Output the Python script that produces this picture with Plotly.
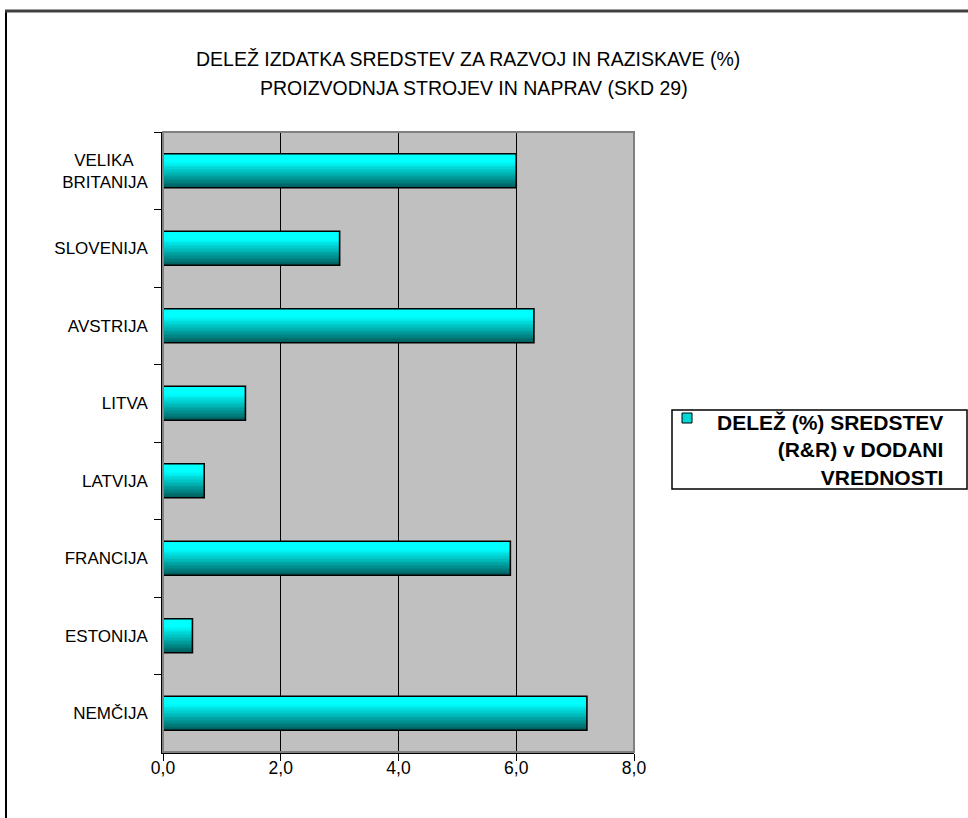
import plotly.graph_objects as go

# data (top to bottom as shown in the chart)
countries = ["VELIKA&nbsp;&nbsp;&nbsp;<br>BRITANIJA", "SLOVENIJA", "AVSTRIJA", "LITVA",
             "LATVIJA", "FRANCIJA", "ESTONIJA", "NEMČIJA"]
share_rd = [6.0, 3.0, 6.3, 1.4, 0.7, 5.9, 0.5, 7.2]
x_ticks = [0, 2, 4, 6, 8]

title_lines = ["DELEŽ IZDATKA SREDSTEV ZA RAZVOJ IN RAZISKAVE (%)",
               "PROIZVODNJA STROJEV IN NAPRAV (SKD 29)"]
legend_text = "DELEŽ (%) SREDSTEV<br>(R&R) v DODANI<br>VREDNOSTI"

FONT = "Liberation Sans, Arial, sans-serif"
W, H = 968, 818
PL, PR, PT, PB = 163, 634, 132, 752   # plot area in pixels


def px(x):
    return (x - PL) / (PR - PL)


def py(y):
    return (PB - y) / (PB - PT)


fig = go.Figure()

# gradient bars: thin horizontal stripes from cyan (top) to dark teal (bottom)
BAR_W = 0.44
N = 24
sw = BAR_W / N
for i in range(N):
    t = (i + 0.5) / N
    k = 0.0 if t < 0.25 else (t - 0.25) / 0.75
    g = int(round(255 - (255 - 92) * k))
    fig.add_trace(go.Bar(
        x=share_rd, y=countries, orientation="h",
        width=sw * 1.15, offset=-BAR_W / 2 + i * sw,
        marker=dict(color=f"rgb(0,{g},{g})", line=dict(width=0)),
        showlegend=False, hoverinfo="skip",
    ))

# outline
fig.add_trace(go.Bar(
    x=share_rd, y=countries, orientation="h",
    width=BAR_W, offset=-BAR_W / 2,
    marker=dict(color="rgba(0,0,0,0)", line=dict(color="black", width=1.6)),
    name="DELEŽ (%) SREDSTEV (R&R) v DODANI VREDNOSTI",
    showlegend=False,
    hovertemplate="%{y}: %{x:.1f}<extra></extra>",
))

shapes = [
    # plot frame (gray top/right)
    dict(type="rect", xref="paper", yref="paper", x0=0, x1=1, y0=0, y1=1,
         line=dict(color="#808080", width=2), layer="above"),
    # outer chart border (cropped: only left and top edges visible)
    dict(type="line", xref="paper", yref="paper",
         x0=px(6), x1=px(6), y0=py(11), y1=py(830),
         line=dict(color="black", width=2)),
    dict(type="line", xref="paper", yref="paper",
         x0=px(5), x1=px(980), y0=py(11), y1=py(11),
         line=dict(color="#404040", width=3)),
    # legend box
    dict(type="rect", xref="paper", yref="paper",
         x0=px(672), x1=px(967), y0=py(489), y1=py(410),
         line=dict(color="black", width=1.5), fillcolor="white"),
    # legend key
    dict(type="rect", xref="paper", yref="paper",
         x0=px(682), x1=px(692), y0=py(423), y1=py(413),
         line=dict(color="black", width=1), fillcolor="#00d8d8"),
]

annotations = [
    dict(text=title_lines[0], xref="paper", yref="paper",
         x=px(468), y=py(46), showarrow=False,
         font=dict(family=FONT, size=19.5, color="black")),
    dict(text=title_lines[1], xref="paper", yref="paper",
         x=px(474), y=py(75), showarrow=False,
         font=dict(family=FONT, size=19.5, color="black")),
    dict(text="<b>" + legend_text + "</b>", xref="paper", yref="paper",
         x=px(945), y=py(450), xanchor="right", yanchor="middle",
         align="right", showarrow=False,
         font=dict(family=FONT, size=21, color="black")),
]

fig.update_layout(
    width=W, height=H,
    margin=dict(l=PL, r=W - PR, t=PT, b=H - PB, pad=0),
    paper_bgcolor="white", plot_bgcolor="#c0c0c0",
    barmode="overlay",
    separators=",.",
    font=dict(family=FONT, size=17, color="black"),
    showlegend=False,
    shapes=shapes,
    annotations=annotations,
    xaxis=dict(
        range=[0, 8], tickvals=x_ticks, tickformat=".1f",
        ticks="outside", ticklen=7, tickcolor="black",
        showline=True, linecolor="black", linewidth=1.5,
        showgrid=True, gridcolor="black", gridwidth=1,
        zeroline=False, tickfont=dict(size=17.5),
        ticklabelstandoff=-8,
        fixedrange=True,
    ),
    yaxis=dict(
        autorange="reversed", tickson="boundaries",
        ticks="outside", ticklen=7, tickcolor="black",
        showline=True, linecolor="black", linewidth=1.5,
        showgrid=False, zeroline=False,
        ticklabelstandoff=10, tickfont=dict(size=17),
        fixedrange=True,
    ),
)

fig.write_html("out.html",
               config={"displayModeBar": False},
               post_script="document.body.style.margin='0';"
                           "document.body.style.overflow='hidden';")
